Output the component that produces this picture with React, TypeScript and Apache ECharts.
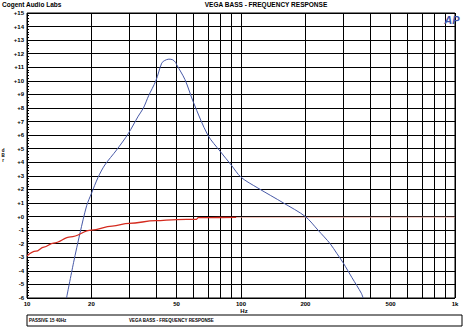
import { useEffect, useRef } from 'react';
import * as echarts from 'echarts';

// Frequency response (blue) — frequency in Hz, level in dBr
const blueFreq = [15.3, 16.5, 17.7, 19, 20, 21.5, 23.1, 26.2, 29.7, 33.1, 35, 37, 40, 42.6, 44, 46, 48, 49.5, 50, 54.7, 60, 70, 80, 90, 100, 120, 158, 200, 229, 261, 280, 300, 330, 365, 372];
const blueDb = [-6.0, -3.4, -1.2, 0.8, 1.7, 2.9, 3.8, 4.9, 6.1, 7.4, 8.0, 8.9, 10.0, 11.3, 11.5, 11.6, 11.55, 11.35, 11.2, 10.1, 8.4, 6.0, 4.8, 3.8, 2.9, 2.1, 1.0, 0.0, -1.0, -2.0, -2.7, -3.4, -4.5, -5.65, -6.0];

// Reference (red) trace
const redFreq = [10, 11, 12, 13.3, 16, 20, 25, 30, 40, 50, 62, 63, 80, 95];
const redDb = [-2.9, -2.55, -2.25, -1.95, -1.5, -1.0, -0.7, -0.5, -0.3, -0.22, -0.2, -0.08, -0.07, -0.06];
const redTailFreq = [95, 1000];
const redTailDb = [-0.06, -0.04];

// Axis definitions
const gridFreqs = [10, 20, 30, 40, 50, 60, 70, 80, 90, 100, 200, 300, 400, 500, 600, 700, 800, 900, 1000];
const xLabelFreqs = [10, 20, 50, 100, 200, 500, 1000];
const xLabelText = ['10', '20', '50', '100', '200', '500', '1k'];
const yMin = -6;
const yMax = 15;

const FONT = '"Liberation Sans", Arial, sans-serif';

export default function App() {
  const ref = useRef<HTMLDivElement>(null);
  useEffect(() => {
    if (!ref.current) return;
    const chart = echarts.init(ref.current, undefined, { renderer: 'svg' });
    const lg = (f: number) => Math.log10(f);
    const pairs = (fs: number[], ds: number[]) => fs.map((f, i) => [lg(f), ds[i]]);
    chart.setOption({
      animation: false,
      backgroundColor: '#fff',
      grid: {
        left: 27, right: 8, top: 13, bottom: 31,
        show: true, borderColor: '#000', borderWidth: 1, containLabel: false,
      },
      xAxis: {
        type: 'value', min: 1, max: 3,
        axisLine: { show: false },
        axisTick: { show: false, customValues: gridFreqs.map(lg) },
        splitLine: { show: true, lineStyle: { color: '#000', width: 1 } },
        axisLabel: {
          customValues: xLabelFreqs.map(lg),
          fontSize: 6, fontWeight: 'bold', fontFamily: FONT, color: '#000', margin: 3,
          formatter: (v: number) => {
            const i = xLabelFreqs.findIndex((f) => Math.abs(lg(f) - v) < 1e-6);
            return i >= 0 ? xLabelText[i] : '';
          },
        },
      },
      yAxis: {
        type: 'value', min: yMin, max: yMax, interval: 1,
        axisLine: { show: false },
        axisTick: { show: true, inside: true, length: 3, lineStyle: { color: '#000' } },
        minorTick: { show: true, splitNumber: 5, length: 2, lineStyle: { color: '#000' } },
        splitLine: { show: true, lineStyle: { color: '#000', width: 1 } },
        axisLabel: {
          fontSize: 6, fontWeight: 'bold', fontFamily: FONT, color: '#000', margin: 3,
          formatter: (v: number) => (v > 0 ? '+' + v : v === 0 ? '+0' : String(v)),
        },
      },
      series: [
        {
          type: 'line', data: pairs(blueFreq, blueDb), showSymbol: false, smooth: 0.3,
          lineStyle: { color: '#4658a6', width: 1 }, z: 3,
        },
        {
          type: 'line', data: pairs(redFreq, redDb), showSymbol: false, smooth: 0.4, smoothMonotone: 'x',
          lineStyle: { color: '#d42a1e', width: 1.3 }, z: 4,
        },
        {
          type: 'line', data: pairs(redTailFreq, redTailDb), showSymbol: false,
          lineStyle: { color: '#e79a8e', width: 0.7 }, z: 2,
        },
      ],
      graphic: [
        { type: 'text', left: 2, top: 1, style: { text: 'Cogent Audio Labs', fontSize: 6.5, fontWeight: 'bold', fontFamily: FONT, fill: '#000' } },
        { type: 'text', x: 266, y: 4, style: { text: 'VEGA BASS - FREQUENCY RESPONSE', fontSize: 6.5, fontWeight: 'bold', fontFamily: FONT, fill: '#000', align: 'center', verticalAlign: 'middle' } },
        { type: 'text', x: 452, y: 20, z: 10, style: { text: 'AP', fontSize: 11, fontWeight: 'bold', fontStyle: 'italic', fontFamily: FONT, fill: '#3d52a8', align: 'center', verticalAlign: 'middle' } },
        { type: 'text', x: 3, y: 155, style: { text: 'd\nB\nr', fontSize: 4.5, fontWeight: 'bold', fontFamily: FONT, fill: '#000', align: 'center', verticalAlign: 'middle', lineHeight: 5 } },
        { type: 'text', x: 244, y: 311, style: { text: 'Hz', fontSize: 6, fontWeight: 'bold', fontFamily: FONT, fill: '#000', align: 'center', verticalAlign: 'middle' } },
        { type: 'rect', shape: { x: 27, y: 315, width: 435, height: 11 }, style: { fill: 'none', stroke: '#000', lineWidth: 1 } },
        { type: 'text', x: 29, y: 320.5, style: { text: 'PASSIVE 15 40Hz', fontSize: 4.5, fontWeight: 'bold', fontFamily: FONT, fill: '#000', verticalAlign: 'middle' } },
        { type: 'text', x: 129, y: 320.5, style: { text: 'VEGA BASS - FREQUENCY RESPONSE', fontSize: 4.5, fontWeight: 'bold', fontFamily: FONT, fill: '#000', verticalAlign: 'middle' } },
      ],
    });
    return () => chart.dispose();
  }, []);
  return <div ref={ref} style={{ position: 'fixed', left: 0, top: 0, width: 463, height: 329 }} />;
}
